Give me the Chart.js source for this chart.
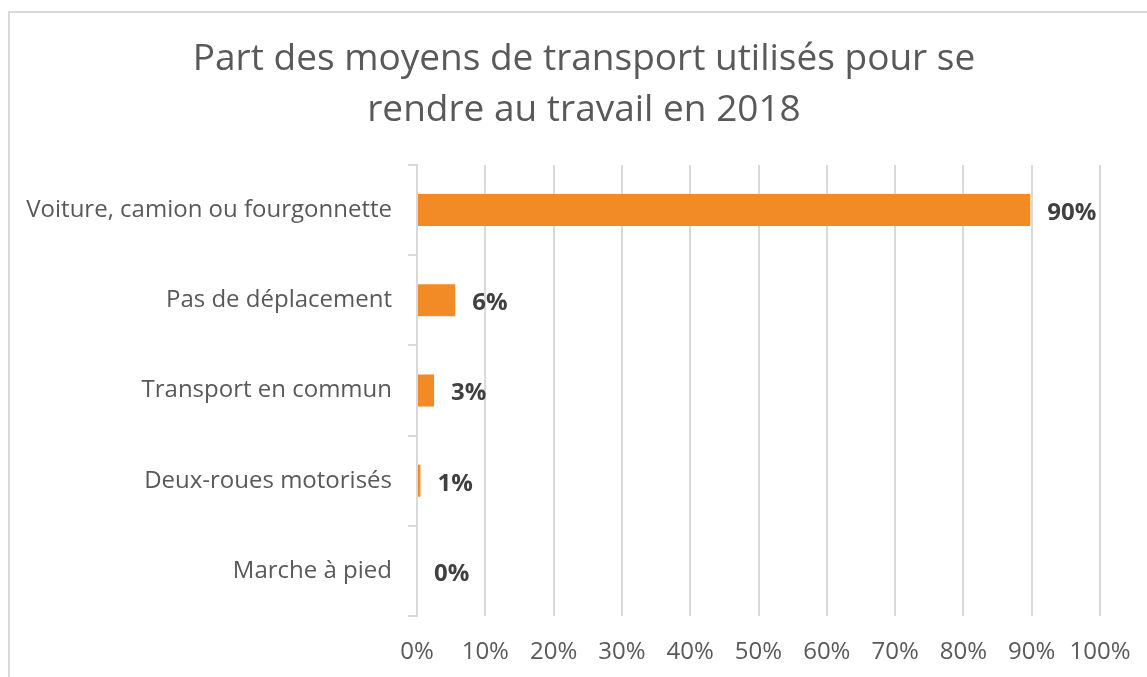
<!DOCTYPE html>
<html>
<head>
<meta charset="utf-8">
<script src="https://cdn.jsdelivr.net/npm/chart.js@4.4.1/dist/chart.umd.min.js"></script>
<style>
  html, body { margin: 0; padding: 0; background: #fff; overflow: hidden; }
  #frame {
    position: absolute; left: 8px; top: 11px;
    width: 1148px; height: 700px;
    border: 2px solid #d9d9d9;
  }
  #wrap { position: relative; width: 1148px; height: 664px; }
</style>
</head>
<body>
<div id="frame"><div id="wrap"><canvas id="barChart"></canvas></div></div>
<script>
// donnees
const categories = ['Voiture, camion ou fourgonnette', 'Pas de déplacement', 'Transport en commun', 'Deux-roues motorisés', 'Marche à pied'];
const parts = [89.8, 5.6, 2.5, 0.5, 0];
const xTicks = [0, 10, 20, 30, 40, 50, 60, 70, 80, 90, 100];
const titleLines = ['Part des moyens de transport utilisés pour se', 'rendre au travail en 2018'];

const FONT = "'Open Sans', 'Noto Sans', sans-serif";

// titre sur deux lignes (centre du cadre Excel, plus large que l'image)
const titleBlock = {
    id: 'titleBlock',
    afterDraw(chart) {
        const c = chart.ctx;
        c.save();
        c.font = '37px ' + FONT;
        c.fillStyle = '#595959';
        c.textAlign = 'center';
        c.textBaseline = 'alphabetic';
        titleLines.forEach((line, i) => c.fillText(line, 574, 57 + i * 51));
        c.restore();
    }
};

// etiquettes de valeur a droite des barres
const valueLabels = {
    id: 'valueLabels',
    afterDatasetsDraw(chart) {
        const c = chart.ctx;
        const meta = chart.getDatasetMeta(0);
        c.save();
        c.font = 'bold 24px ' + FONT;
        c.fillStyle = '#404040';
        c.textAlign = 'left';
        c.textBaseline = 'middle';
        meta.data.forEach((bar, i) => {
            c.fillText(Math.round(parts[i]) + '%', bar.x + 17, bar.y + 3);
        });
        c.restore();
    }
};

var ctx = document.getElementById('barChart').getContext('2d');
var myChart = new Chart(ctx, {
    type: 'bar',
    data: {
        labels: categories,
        datasets: [{
            data: parts,
            backgroundColor: '#F28A26',
            borderWidth: 0,
            barPercentage: 0.355,
            categoryPercentage: 1
        }]
    },
    options: {
        indexAxis: 'y',
        responsive: true,
        maintainAspectRatio: false,
        animation: false,
        layout: { padding: { left: 12, right: 58, top: 152, bottom: 0 } },
        plugins: {
            legend: { display: false },
            tooltip: { enabled: false },
            title: { display: false }
        },
        scales: {
            x: {
                min: 0,
                max: 100,
                afterBuildTicks(scale) {
                    scale.ticks = xTicks.map(v => ({ value: v }));
                },
                afterFit(scale) { scale.height = 61; },
                grid: { color: '#d9d9d9', lineWidth: 2, drawTicks: false },
                border: { display: false },
                ticks: {
                    padding: 22,
                    color: '#595959',
                    font: { family: FONT, size: 24 },
                    callback: v => v + '%'
                }
            },
            y: {
                afterFit(scale) { scale.width = 395; },
                grid: { drawOnChartArea: false, color: '#d9d9d9', lineWidth: 2, tickLength: 9 },
                border: { display: true, color: '#d9d9d9', width: 2 },
                ticks: {
                    padding: 16,
                    color: '#595959',
                    font: { family: FONT, size: 24 }
                }
            }
        }
    },
    plugins: [titleBlock, valueLabels]
});
</script>
</body>
</html>
